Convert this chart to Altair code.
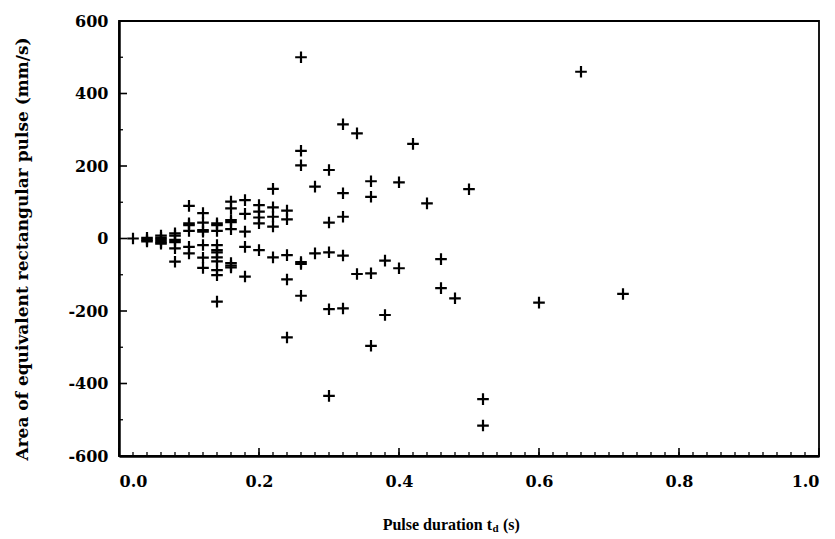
import altair as alt
import pandas as pd

# Pulse duration (s) and area of equivalent rectangular pulse (mm/s)
durations = (
    [0.02]
    + [0.04] * 3
    + [0.06] * 5
    + [0.08] * 6
    + [0.10] * 6
    + [0.12] * 7
    + [0.14] * 11
    + [0.16] * 8
    + [0.18] * 5
    + [0.20] * 5
    + [0.22] * 5
    + [0.24] * 5
    + [0.26] * 6
    + [0.28] * 2
    + [0.30] * 5
    + [0.32] * 5
    + [0.34] * 2
    + [0.36] * 4
    + [0.38] * 2
    + [0.40] * 2
    + [0.42, 0.44]
    + [0.46] * 2
    + [0.48, 0.50]
    + [0.52] * 2
    + [0.60, 0.66, 0.72]
)
areas = [
    0,
    2, -4, -8,
    8, 2, -4, -10, -14,
    14, 8, -4, -10, -27, -64,
    90, 42, 37, 21, -23, -41,
    70, 44, 23, 19, -18, -53, -81,
    42, 37, 21, -18, -32, -38, -52, -63, -87, -101, -174,
    102, 83, 51, 45, 26, -68, -75, -80,
    106, 68, 19, -23, -105,
    92, 74, 58, 42, -32,
    137, 86, 60, 33, -52,
    77, 53, -46, -113, -273,
    500, 242, 202, -65, -70, -158,
    143, -41,
    189, 44, -38, -195, -434,
    315, 125, 60, -47, -193,
    290, -98,
    158, 115, -96, -296,
    -61, -211,
    155, -82,
    261, 97,
    -57, -137,
    -165, 136,
    -443, -516,
    -177, 460, -153,
]

x_labels = [0.0, 0.2, 0.4, 0.6, 0.8, 1.0]
x_minor = [round(i * 0.02, 2) for i in range(51)]
y_labels = [-600, -400, -200, 0, 200, 400, 600]
y_minor = [-500, -300, -100, 100, 300, 500]

W, H = 700, 435
FONT = "DejaVu Serif"
TFONT = "Liberation Serif"

df = pd.DataFrame({"t": durations, "a": areas})
xs = alt.Scale(domain=[0, 1], nice=False, zero=False)
ys = alt.Scale(domain=[-600, 600], nice=False, zero=False)

x_axis = alt.Axis(
    values=x_labels, labelExpr="format(datum.value, '.1f')",
    ticks=False, grid=False,
    domainColor="black", domainWidth=2.5,
    labelFont=FONT, labelFontWeight="bold", labelFontSize=16,
    labelColor="black", labelPadding=17, title=None)
y_axis = alt.Axis(
    values=y_labels, labelExpr="'' + datum.value",
    ticks=False, grid=False,
    domainColor="black", domainWidth=2.5,
    labelFont=FONT, labelFontWeight="bold", labelFontSize=16,
    labelColor="black", labelPadding=11,
    title="Area of equivalent rectangular pulse (mm/s)",
    titleFont=FONT, titleFontWeight="bold", titleFontSize=17,
    titleColor="black", titleX=-97, titleY=H / 2 + 10,
    titleBaseline="middle", titleAngle=270)

points = alt.Chart(df).mark_point(
    shape="M-1,0H1M0,-1V1", filled=False, color="black",
    strokeWidth=2.2, size=135, opacity=1,
).encode(
    x=alt.X("t:Q", scale=xs, axis=x_axis),
    y=alt.Y("a:Q", scale=ys, axis=y_axis),
)

xminor_df = pd.DataFrame({"t": x_minor})
xmajor_df = pd.DataFrame({"t": x_labels})
yminor_df = pd.DataFrame({"a": y_minor})
ymajor_df = pd.DataFrame({"a": y_labels})

x_minor_ticks = alt.Chart(xminor_df).mark_rule(color="black", strokeWidth=1.3).encode(
    x=alt.X("t:Q", scale=xs, axis=x_axis), y=alt.value(H), y2=alt.value(H - 4))
x_major_ticks = alt.Chart(xmajor_df).mark_rule(color="black", strokeWidth=1.6).encode(
    x=alt.X("t:Q", scale=xs, axis=x_axis), y=alt.value(H), y2=alt.value(H - 8))
y_minor_ticks = alt.Chart(yminor_df).mark_rule(color="black", strokeWidth=1.3).encode(
    y=alt.Y("a:Q", scale=ys, axis=y_axis), x=alt.value(0), x2=alt.value(4))
y_major_ticks = alt.Chart(ymajor_df).mark_rule(color="black", strokeWidth=1.6).encode(
    y=alt.Y("a:Q", scale=ys, axis=y_axis), x=alt.value(0), x2=alt.value(8))

title_main = pd.DataFrame({"s": ["Pulse duration t"]})
title_sub = pd.DataFrame({"s": ["d"]})
title_end = pd.DataFrame({"s": ["(s)"]})
TX = 373
TY = 504
t1 = alt.Chart(title_main).mark_text(
    font=TFONT, fontWeight="bold", fontSize=16, color="black",
    align="right", baseline="middle").encode(
    text="s:N", x=alt.value(TX), y=alt.value(TY))
t2 = alt.Chart(title_sub).mark_text(
    font=TFONT, fontWeight="bold", fontSize=11, color="black",
    align="left", baseline="middle").encode(
    text="s:N", x=alt.value(TX + 0.5), y=alt.value(TY + 4))
t3 = alt.Chart(title_end).mark_text(
    font=TFONT, fontWeight="bold", fontSize=16, color="black",
    align="left", baseline="middle").encode(
    text="s:N", x=alt.value(TX + 11), y=alt.value(TY))

chart = alt.layer(
    points, x_minor_ticks, x_major_ticks, y_minor_ticks, y_major_ticks,
    t1, t2, t3,
).properties(
    width=W, height=H,
    autosize=alt.AutoSizeParams(type="none"),
    padding={"left": 119, "top": 21, "right": 16, "bottom": 83},
    background="white",
).configure_view(
    stroke="black", strokeWidth=1.8,
)

chart.save("out.html", embed_options={"renderer": "svg", "actions": False})
